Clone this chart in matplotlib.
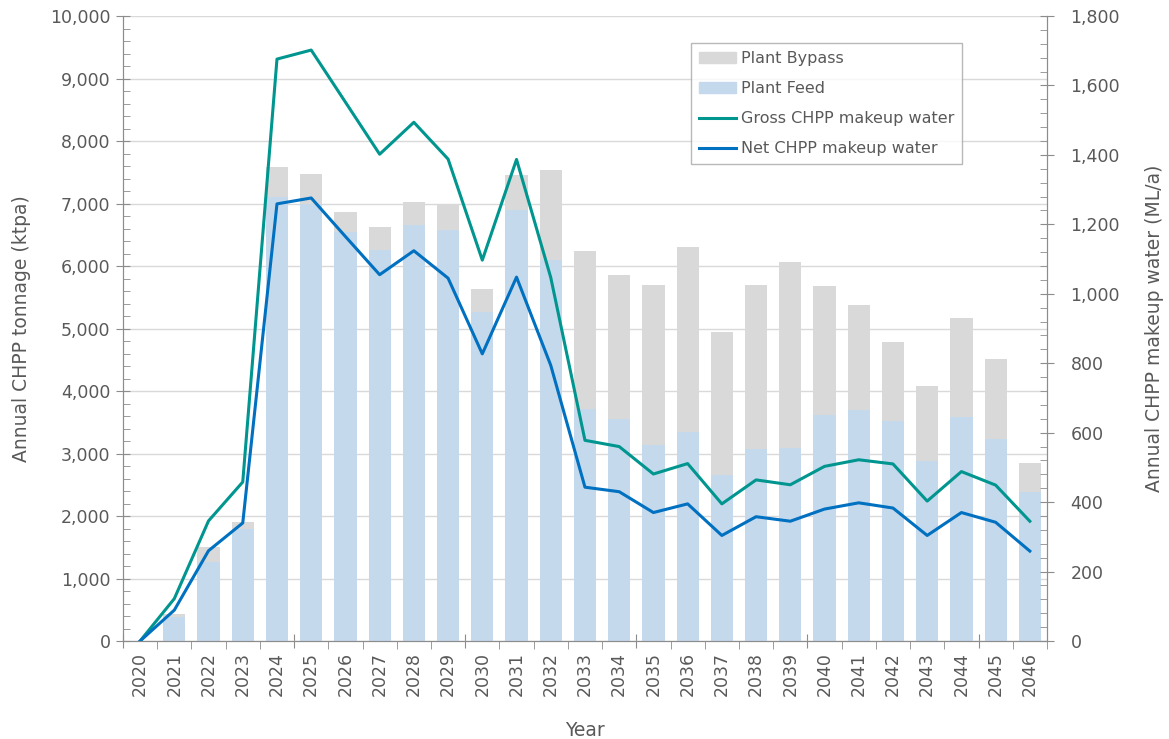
import matplotlib.pyplot as plt
from matplotlib.ticker import MultipleLocator, FuncFormatter
from matplotlib.patches import Patch
from matplotlib.lines import Line2D

# --- Data ---
years = [str(y) for y in range(2020, 2047)]
plant_feed = [0, 380, 1270, 1800, 7100, 7000, 6540, 6250, 6650, 6580, 5260, 6900, 6100,
              3720, 3560, 3130, 3350, 2650, 3080, 3090, 3620, 3690, 3520, 2880, 3580, 3230, 2390]
plant_total = [0, 440, 1510, 1900, 7580, 7480, 6870, 6620, 7020, 7000, 5640, 7450, 7530,
               6240, 5860, 5690, 6300, 4940, 5690, 6060, 5680, 5370, 4790, 4080, 5170, 4520, 2850]
plant_bypass = [t - f for t, f in zip(plant_total, plant_feed)]
gross_water = [0, 122, 346, 458, 1676, 1702, 1552, 1402, 1494, 1388, 1097, 1387, 1047,
               578, 560, 481, 511, 395, 464, 450, 503, 522, 510, 403, 488, 449, 345]
net_water = [0, 89, 260, 340, 1259, 1276, 1165, 1055, 1124, 1045, 827, 1048, 794,
             443, 430, 370, 395, 304, 358, 345, 380, 398, 383, 304, 370, 342, 259]

# --- Styles ---
grey_txt = "#595959"
axis_col = "#8c8c8c"
feed_col = "#c5d9ec"
bypass_col = "#d9d9d9"
gross_col = "#00968f"
net_col = "#0070c0"

plt.rcParams['font.family'] = ['DejaVu Sans']
plt.rcParams['font.size'] = 12

fig = plt.figure(figsize=(11.69, 7.39), dpi=100)
ax = fig.add_axes([0.1052, 0.1326, 0.7904, 0.8457])
ax2 = ax.twinx()

x = list(range(len(years)))
ax.bar(x, plant_feed, width=0.65, color=feed_col, zorder=2)
ax.bar(x, plant_bypass, width=0.65, bottom=plant_feed, color=bypass_col, zorder=2)
ax2.plot(x, gross_water, color=gross_col, lw=2.2, zorder=3)
ax2.plot(x, net_water, color=net_col, lw=2.2, zorder=3)

ax.set_xlim(-0.5, len(years) - 0.5)
ax.set_ylim(0, 10000)
ax2.set_ylim(0, 1800)

# y axes
ax.yaxis.set_major_locator(MultipleLocator(1000))
ax.yaxis.set_minor_locator(MultipleLocator(200))
ax.yaxis.set_major_formatter(FuncFormatter(lambda v, p: f"{v:,.0f}"))
ax2.yaxis.set_major_locator(MultipleLocator(200))
ax2.yaxis.set_minor_locator(MultipleLocator(40))
ax2.yaxis.set_major_formatter(FuncFormatter(lambda v, p: f"{v:,.0f}"))
ax.grid(axis='y', which='major', color='#d9d9d9', lw=1, zorder=0)
ax.set_axisbelow(True)

ax.tick_params(axis='y', which='major', direction='inout', length=10, color=axis_col,
               labelcolor=grey_txt, labelsize=12.5, pad=4)
ax.tick_params(axis='y', which='minor', direction='in', length=5, color=axis_col)
ax2.tick_params(axis='y', which='major', direction='inout', length=10, color=axis_col,
                labelcolor=grey_txt, labelsize=12.5, pad=12)
ax2.tick_params(axis='y', which='minor', direction='in', length=5, color=axis_col)

# x axis: labels at centres, ticks at category boundaries
ax.set_xticks(x)
ax.set_xticklabels(years, rotation=90)
ax.set_xticks([i - 0.5 for i in range(len(years) + 1) if i % 5 != 0], minor=True)
ax.tick_params(axis='x', which='major', length=0, labelcolor=grey_txt, labelsize=12.5, pad=8)
ax.tick_params(axis='x', which='minor', direction='out', length=6, color=axis_col)
sec = ax.secondary_xaxis(0)
sec.set_xticks([i - 0.5 for i in range(0, len(years) + 1, 5)])
sec.set_xticklabels([])
sec.tick_params(direction='inout', length=10, color=axis_col)
sec.spines['bottom'].set_visible(False)

for a in (ax, ax2):
    a.spines['top'].set_visible(False)
    for s in ('left', 'right', 'bottom'):
        a.spines[s].set_color(axis_col)

ax.set_xlabel("Year", color=grey_txt, fontsize=13.5, labelpad=18)
ax.set_ylabel("Annual CHPP tonnage (ktpa)", color=grey_txt, fontsize=13.5, labelpad=14)
ax2.set_ylabel("Annual CHPP makeup water (ML/a)", color=grey_txt, fontsize=13.5, labelpad=18)

handles = [Patch(color=bypass_col, label="Plant Bypass"),
           Patch(color=feed_col, label="Plant Feed"),
           Line2D([], [], color=gross_col, lw=2.2, label="Gross CHPP makeup water"),
           Line2D([], [], color=net_col, lw=2.2, label="Net CHPP makeup water")]
leg = ax2.legend(handles=handles, loc='upper left', bbox_to_anchor=(0.615, 0.957),
                 borderaxespad=0, fontsize=11.5, frameon=True, fancybox=False,
                 edgecolor='#a6a6a6', labelcolor=grey_txt, borderpad=0.5,
                 labelspacing=0.95, handlelength=2.3, handletextpad=0.3)
leg.get_frame().set_linewidth(1)

fig.savefig("out.png", dpi=100)
